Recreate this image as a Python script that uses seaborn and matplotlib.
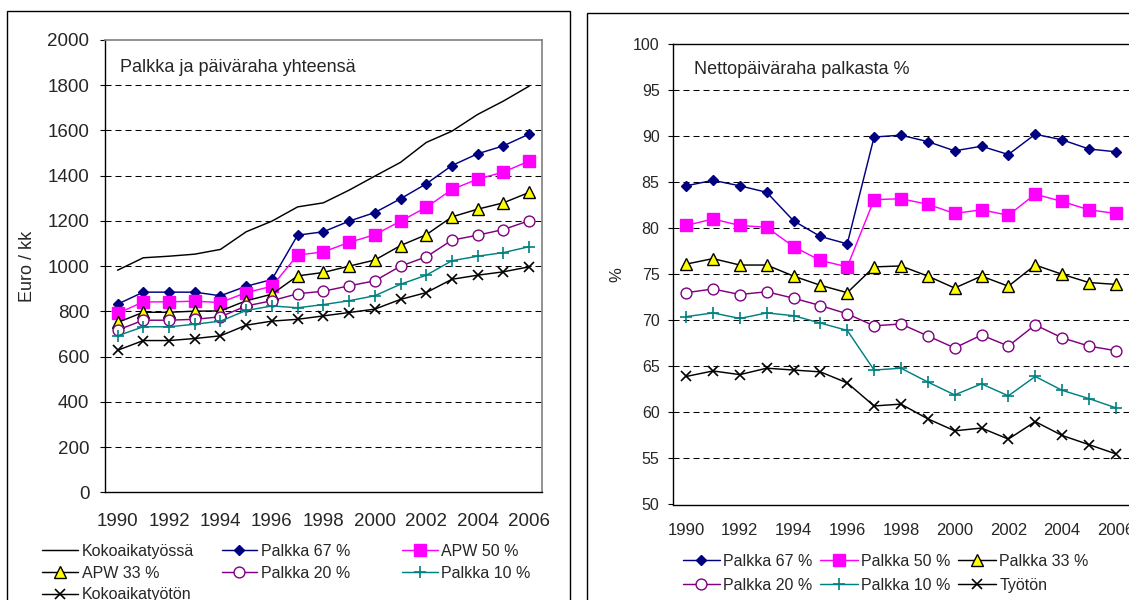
import numpy as np
import pandas as pd
import matplotlib
matplotlib.use("Agg")
import matplotlib.pyplot as plt
import seaborn as sns
from matplotlib.patches import Rectangle

# ---------------- data ----------------
years = list(range(1990, 2007))
year_labels = [str(y) for y in range(1990, 2007, 2)]

# Left: Palkka ja päiväraha yhteensä (Euro / kk)
koko_tyossa = [982, 1037, 1044, 1053, 1074, 1152, 1199, 1262, 1280, 1336, 1398, 1459, 1547, 1597, 1671, 1730, 1796]
palkka67_e = [832, 885, 885, 885, 869, 911, 941, 1137, 1152, 1199, 1237, 1298, 1364, 1445, 1497, 1532, 1584]
apw50_e = [791, 842, 842, 845, 839, 883, 911, 1049, 1063, 1105, 1139, 1199, 1260, 1339, 1385, 1416, 1465]
apw33_e = [751, 796, 796, 801, 802, 847, 876, 957, 972, 1000, 1027, 1091, 1139, 1218, 1252, 1280, 1326]
palkka20_e = [717, 761, 761, 765, 776, 824, 847, 878, 889, 913, 935, 1000, 1041, 1115, 1137, 1162, 1201]
palkka10_e = [692, 732, 732, 743, 757, 804, 824, 816, 830, 847, 869, 920, 960, 1024, 1044, 1060, 1086]
koko_tyoton = [628, 671, 671, 680, 692, 739, 757, 765, 780, 795, 810, 853, 883, 942, 960, 975, 997]

# Right: Nettopäiväraha palkasta %
palkka67_p = [84.6, 85.2, 84.6, 83.9, 80.8, 79.1, 78.3, 89.9, 90.1, 89.4, 88.4, 88.9, 88.0, 90.2, 89.6, 88.6, 88.3]
palkka50_p = [80.3, 81.0, 80.3, 80.1, 78.0, 76.5, 75.8, 83.1, 83.2, 82.6, 81.6, 82.0, 81.4, 83.7, 82.9, 82.0, 81.6]
palkka33_p = [76.1, 76.7, 76.0, 76.0, 74.8, 73.8, 73.0, 75.8, 75.9, 74.8, 73.5, 74.8, 73.7, 76.0, 75.0, 74.1, 73.9]
palkka20_p = [73.0, 73.4, 72.8, 73.1, 72.4, 71.6, 70.7, 69.4, 69.6, 68.3, 67.0, 68.4, 67.2, 69.5, 68.1, 67.2, 66.7]
palkka10_p = [70.4, 70.8, 70.2, 70.8, 70.5, 69.7, 68.9, 64.6, 64.8, 63.3, 61.9, 63.1, 61.8, 63.9, 62.4, 61.5, 60.5]
tyoton_p = [63.9, 64.5, 64.1, 64.8, 64.6, 64.4, 63.2, 60.7, 60.9, 59.3, 58.0, 58.3, 57.1, 59.0, 57.5, 56.5, 55.5]

# ---------------- style ----------------
sns.set_style("white")
plt.rcParams['font.family'] = ['Liberation Sans', 'DejaVu Sans']

W, H = 1129, 600
fig = plt.figure(figsize=(W / 100, H / 100), dpi=100)

def fx(px):
    return px / W

def fy(py):
    return 1 - py / H

# outer chart boxes
fig.patches.append(Rectangle((fx(7.3), -0.1), fx(570) - fx(7.3), fy(11) + 0.1,
                             transform=fig.transFigure, fill=False, ec='black', lw=1.0))
fig.patches.append(Rectangle((fx(587), -0.1), 0.5, fy(12.7) + 0.1,
                             transform=fig.transFigure, fill=False, ec='black', lw=1.0))

axL = fig.add_axes([fx(104.7), fy(492.3), fx(542) - fx(104.7), fy(40) - fy(492.3)])
axR = fig.add_axes([fx(672.7), fy(504.5), fx(1129.2) - fx(672.7), fy(44) - fy(504.5)])

NAVY = '#000080'
MAG = '#FF00FF'
PURP = '#800080'
TEAL = '#008080'

def series(ax, vals, label, color, marker=None, ms=7, mfc=None, mec=None, mew=1.0):
    kw = dict(x=years, y=vals, ax=ax, color=color, lw=1.05, label=label, legend=False)
    if marker is not None:
        kw.update(marker=marker, markersize=ms, markerfacecolor=mfc or color,
                  markeredgecolor=mec or color, markeredgewidth=mew)
    sns.lineplot(**kw)

# left chart
series(axL, koko_tyossa, 'Kokoaikatyössä', 'black')
series(axL, palkka67_e, 'Palkka 67 %', NAVY, 'D', 5.6)
series(axL, apw50_e, 'APW 50 %', MAG, 's', 8.6)
series(axL, apw33_e, 'APW 33 %', 'black', '^', 8.6, mfc='#FFFF00', mec='black')
series(axL, palkka20_e, 'Palkka 20 %', PURP, 'o', 7.8, mfc='white', mec=PURP)
series(axL, palkka10_e, 'Palkka 10 %', TEAL, '+', 8, mew=1.2)
series(axL, koko_tyoton, 'Kokoaikatyötön', 'black', 'x', 7.6, mew=1.2)

# right chart
series(axR, palkka67_p, 'Palkka 67 %', NAVY, 'D', 5.6)
series(axR, palkka50_p, 'Palkka 50 %', MAG, 's', 8.6)
series(axR, palkka33_p, 'Palkka 33 %', 'black', '^', 8.6, mfc='#FFFF00', mec='black')
series(axR, palkka20_p, 'Palkka 20 %', PURP, 'o', 7.8, mfc='white', mec=PURP)
series(axR, palkka10_p, 'Palkka 10 %', TEAL, '+', 8, mew=1.2)
series(axR, tyoton_p, 'Työtön', 'black', 'x', 7.6, mew=1.2)

def style_axis(ax, ylim, yticks, xfs, yfs, ypad, xpad):
    ax.set_xlim(1989.5, 2006.5)
    ax.set_ylim(*ylim)
    ax.set_yticks(yticks)
    ax.set_yticklabels([str(v) for v in yticks], fontsize=yfs)
    ax.set_xticks(np.arange(1989.5, 2007, 1.0))
    ax.set_xticklabels([])
    ax.set_xticks(list(range(1990, 2007, 2)), minor=True)
    ax.set_xticklabels(year_labels, minor=True, fontsize=xfs)
    ax.tick_params(axis='x', which='major', direction='out', length=4, width=0.8, color='black')
    ax.tick_params(axis='x', which='minor', length=0, pad=xpad)
    ax.tick_params(axis='y', which='major', direction='out', length=3.5, width=0.8,
                   color='black', pad=ypad, left=True)
    ax.set_xlabel('')
    ax.set_ylabel('')
    ax.yaxis.grid(True, color='black', lw=0.75, linestyle=(0, (5.8, 3.8)))
    ax.xaxis.grid(False)
    ax.set_axisbelow(True)
    ticks = ax.yaxis.get_major_ticks()
    ticks[0].gridline.set_visible(False)
    ticks[-1].gridline.set_visible(False)
    for s in ['left', 'bottom']:
        ax.spines[s].set_color('black')
        ax.spines[s].set_linewidth(1.0)
    ax.set_facecolor('white')

style_axis(axL, (0, 2000), list(range(0, 2001, 200)), 13.5, 13.5, 7.5, 15)
axL.spines['top'].set_color('#808080')
axL.spines['right'].set_color('#808080')
axL.spines['top'].set_linewidth(1.2)
axL.spines['right'].set_linewidth(1.2)

style_axis(axR, (50, 100), list(range(50, 101, 5)), 12, 11.5, 6, 13.5)
axR.spines['top'].set_color('black')
axR.spines['top'].set_linewidth(1.0)
axR.spines['right'].set_visible(False)

# titles and axis labels
fig.text(fx(120.5), fy(68), 'Palkka ja päiväraha yhteensä', fontsize=13, va='center', ha='left')
fig.text(fx(694), fy(69), 'Nettopäiväraha palkasta %', fontsize=13, va='center', ha='left')
fig.text(fx(27.4), fy(266), 'Euro / kk', fontsize=13, rotation=90, va='center', ha='center')
fig.text(fx(617), fy(275), '%', fontsize=12, rotation=90, va='center', ha='center')

# legends (one per column, Excel row-major layout)
hL, lL = axL.get_legend_handles_labels()
dL = dict(zip(lL, hL))
hR, lR = axR.get_legend_handles_labels()
dR = dict(zip(lR, hR))

def col_legend(d, labels, x_px, y_top_px, fs, hl, ls):
    leg = fig.legend([d[l] for l in labels], labels, loc='upper left',
                     bbox_to_anchor=(fx(x_px), fy(y_top_px)), bbox_transform=fig.transFigure,
                     frameon=False, borderpad=0, borderaxespad=0, handlelength=hl,
                     handletextpad=0.2, labelspacing=ls, fontsize=fs)
    return leg

col_legend(dL, ['Kokoaikatyössä', 'APW 33 %', 'Kokoaikatyötön'], 42.4, 544, 11.5, 2.25, 0.41)
col_legend(dL, ['Palkka 67 %', 'Palkka 20 %'], 221.5, 544, 11.5, 2.25, 0.41)
col_legend(dL, ['APW 50 %', 'Palkka 10 %'], 401.6, 544, 11.5, 2.25, 0.41)

col_legend(dR, ['Palkka 67 %', 'Palkka 20 %'], 682.5, 554, 11.5, 2.35, 0.54)
col_legend(dR, ['Palkka 50 %', 'Palkka 10 %'], 820, 554, 11.5, 2.35, 0.54)
col_legend(dR, ['Palkka 33 %', 'Työtön'], 958.4, 554, 11.5, 2.35, 0.54)

fig.savefig('out.png', dpi=100, facecolor='white')
